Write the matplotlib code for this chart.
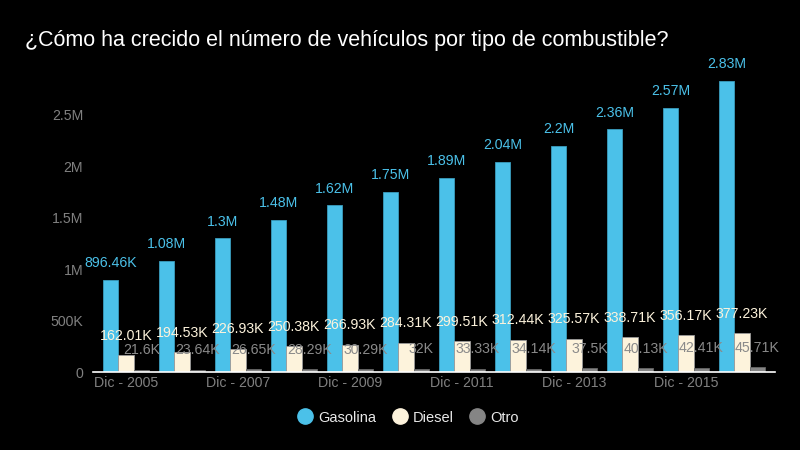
import matplotlib.pyplot as plt
from matplotlib.lines import Line2D
import numpy as np

plt.rcParams['font.family'] = ['Liberation Sans', 'DejaVu Sans']

# Data
years = ["Dic - 2005", "Dic - 2006", "Dic - 2007", "Dic - 2008", "Dic - 2009", "Dic - 2010",
         "Dic - 2011", "Dic - 2012", "Dic - 2013", "Dic - 2014", "Dic - 2015", "Dic - 2016"]
gasolina = [896460, 1080000, 1300000, 1480000, 1620000, 1750000,
            1890000, 2040000, 2200000, 2360000, 2570000, 2830000]
diesel = [162010, 194530, 226930, 250380, 266930, 284310,
          299510, 312440, 325570, 338710, 356170, 377230]
otro = [21600, 23640, 26650, 28290, 30290, 32000,
        33330, 34140, 37500, 40130, 42410, 45710]

gas_labels = ["896.46K", "1.08M", "1.3M", "1.48M", "1.62M", "1.75M",
              "1.89M", "2.04M", "2.2M", "2.36M", "2.57M", "2.83M"]
die_labels = ["162.01K", "194.53K", "226.93K", "250.38K", "266.93K", "284.31K",
              "299.51K", "312.44K", "325.57K", "338.71K", "356.17K", "377.23K"]
otr_labels = ["21.6K", "23.64K", "26.65K", "28.29K", "30.29K", "32K",
              "33.33K", "34.14K", "37.5K", "40.13K", "42.41K", "45.71K"]

c_gas = '#4bc1e9'
c_die = '#fdf3dc'
c_otr = '#858585'

fig = plt.figure(figsize=(8, 4.5), dpi=100, facecolor='black')
ax = fig.add_axes([0.116, 0.173, 0.853, 0.693], facecolor='black')

x = np.arange(len(years))
w = 0.275
ax.bar(x - w, gasolina, width=w, color=c_gas, edgecolor='#3a9cbd', linewidth=0.6)
ax.bar(x, diesel, width=w, color=c_die, edgecolor='#9a9a9a', linewidth=0.6)
ax.bar(x + w, otro, width=w, color=c_otr, edgecolor='#666666', linewidth=0.6)

for i in range(len(years)):
    ax.annotate(gas_labels[i], (x[i] - w, gasolina[i]), xytext=(0, 7), textcoords='offset points',
                ha='center', va='bottom', color=c_gas, fontsize=10.2)
    ax.annotate(die_labels[i], (x[i], diesel[i]), xytext=(0, 9), textcoords='offset points',
                ha='center', va='bottom', color=c_die, fontsize=10.2)
    ax.annotate(otr_labels[i], (x[i] + w, otro[i]), xytext=(0, 9), textcoords='offset points',
                ha='center', va='bottom', color='#8a8a8a', fontsize=10.2)

ax.set_xlim(-0.59, 11.59)
ax.set_ylim(0, 3.03e6)
ax.set_yticks([0, 500000, 1000000, 1500000, 2000000, 2500000])
ax.set_yticklabels(["0", "500K", "1M", "1.5M", "2M", "2.5M"])
ax.set_xticks(x[::2])
ax.set_xticklabels(years[::2])
ax.tick_params(axis='both', length=0, colors='#808080', labelsize=10.2)
ax.tick_params(axis='y', pad=7)
ax.tick_params(axis='x', pad=3)

for s in ['top', 'right', 'left']:
    ax.spines[s].set_visible(False)
ax.spines['bottom'].set_color('white')
ax.spines['bottom'].set_linewidth(1.2)

fig.text(0.031, 0.91, "¿Cómo ha crecido el número de vehículos por tipo de combustible?",
         color='white', fontsize=15.5, va='center', ha='left')

handles = [Line2D([], [], marker='o', linestyle='', markersize=11, color=c, label=l)
           for c, l in [(c_gas, 'Gasolina'), (c_die, 'Diesel'), (c_otr, 'Otro')]]
leg = fig.legend(handles=handles, loc='center', bbox_to_anchor=(0.508, 0.072), ncol=3,
                 frameon=False, fontsize=10.5, handletextpad=0.1, columnspacing=0.9,
                 handlelength=1.5)
for t in leg.get_texts():
    t.set_color('#e8e8e8')

fig.savefig('out.png', dpi=100, facecolor='black')
